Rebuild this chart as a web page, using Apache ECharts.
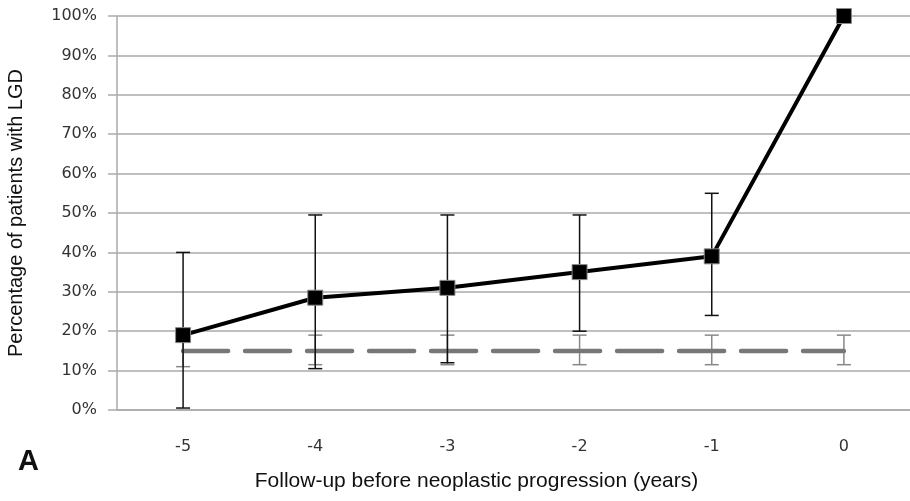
<!DOCTYPE html>
<html>
<head>
<meta charset="utf-8">
<script src="https://cdn.jsdelivr.net/npm/echarts@6/dist/echarts.min.js"></script>
<style>
  html, body { margin: 0; padding: 0; background: #fff; }
  #chart { width: 910px; height: 501px; }
</style>
</head>
<body>
<div id="chart"></div>
<script>
const years = ["-5", "-4", "-3", "-2", "-1", "0"];
const lgdPct = [19, 28.5, 31, 35, 39, 100];
const lgdLow = [0.5, 10.5, 12, 20, 24, null];
const lgdHigh = [40, 49.5, 49.5, 49.5, 55, null];
const basePct = [15, 15, 15, 15, 15, 15];
const baseLow = [11, 11.5, 11.5, 11.5, 11.5, 11.5];
const baseHigh = [19, 19, 19, 19, 19, 19];

const chart = echarts.init(document.getElementById("chart"));

// error bars through the axes' own coords
const errorBars = (color, width) => (params, api) => {
  const i = api.value(0);
  const lo = api.value(1);
  const hi = api.value(2);
  if (lo == null || hi == null || isNaN(lo) || isNaN(hi)) return;
  const top = api.coord([i, hi]);
  const bot = api.coord([i, lo]);
  const cap = 7;
  const style = { stroke: color, lineWidth: width };
  return {
    type: "group",
    children: [
      { type: "line", shape: { x1: top[0], y1: top[1], x2: bot[0], y2: bot[1] }, style },
      { type: "line", shape: { x1: top[0] - cap, y1: top[1], x2: top[0] + cap, y2: top[1] }, style },
      { type: "line", shape: { x1: bot[0] - cap, y1: bot[1], x2: bot[0] + cap, y2: bot[1] }, style },
    ],
  };
};

const option = {
  animation: false,
  backgroundColor: "#fff",
  title: {
    text: "A",
    left: 13,
    top: 442,
    textStyle: { fontFamily: "Liberation Sans", fontWeight: "bold", fontSize: 29, color: "#111" },
  },
  grid: { left: 117, right: 0, top: 16, bottom: 91, outerBoundsMode: "none", containLabel: false },
  xAxis: {
    type: "category",
    data: years,
    boundaryGap: true,
    axisLine: { lineStyle: { color: "#aaa", width: 1.5 } },
    axisTick: { show: false },
    axisLabel: { margin: 29, fontFamily: "DejaVu Sans", fontSize: 16, color: "#333" },
    name: "Follow-up before neoplastic progression (years)",
    nameLocation: "middle",
    nameGap: 61,
    nameTextStyle: { fontFamily: "Liberation Sans", fontSize: 21, color: "#111", padding: [0, 74, 0, 0] },
  },
  yAxis: {
    type: "value",
    min: 0,
    max: 100,
    interval: 10,
    axisLine: { show: true, lineStyle: { color: "#aaa", width: 1.5 } },
    axisTick: { show: true, length: 9, lineStyle: { color: "#aaa", width: 1.5 } },
    axisLabel: { margin: 20, fontFamily: "DejaVu Sans", fontSize: 16, color: "#333", formatter: "{value}%" },
    splitLine: { lineStyle: { color: "#aaa", width: 1.5 } },
    name: "Percentage of patients with LGD",
    nameLocation: "middle",
    nameGap: 91,
    nameTextStyle: { fontFamily: "Liberation Sans", fontSize: 20, color: "#111" },
  },
  series: [
    {
      type: "custom",
      renderItem: errorBars("#888", 1.5),
      data: years.map((y, i) => [i, baseLow[i], baseHigh[i]]),
      z: 2,
    },
    {
      type: "line",
      data: basePct,
      symbol: "none",
      lineStyle: { color: "#777", width: 4.5, type: [45, 17], cap: "round" },
      z: 3,
    },
    {
      type: "custom",
      renderItem: errorBars("#111", 1.5),
      data: years.map((y, i) => [i, lgdLow[i], lgdHigh[i]]),
      z: 4,
    },
    {
      type: "line",
      data: lgdPct,
      symbol: "rect",
      symbolSize: 15,
      itemStyle: { color: "#000", borderColor: "#888", borderWidth: 1 },
      lineStyle: { color: "#000", width: 4 },
      z: 5,
    },
  ],
};

chart.setOption(option);
</script>
</body>
</html>
